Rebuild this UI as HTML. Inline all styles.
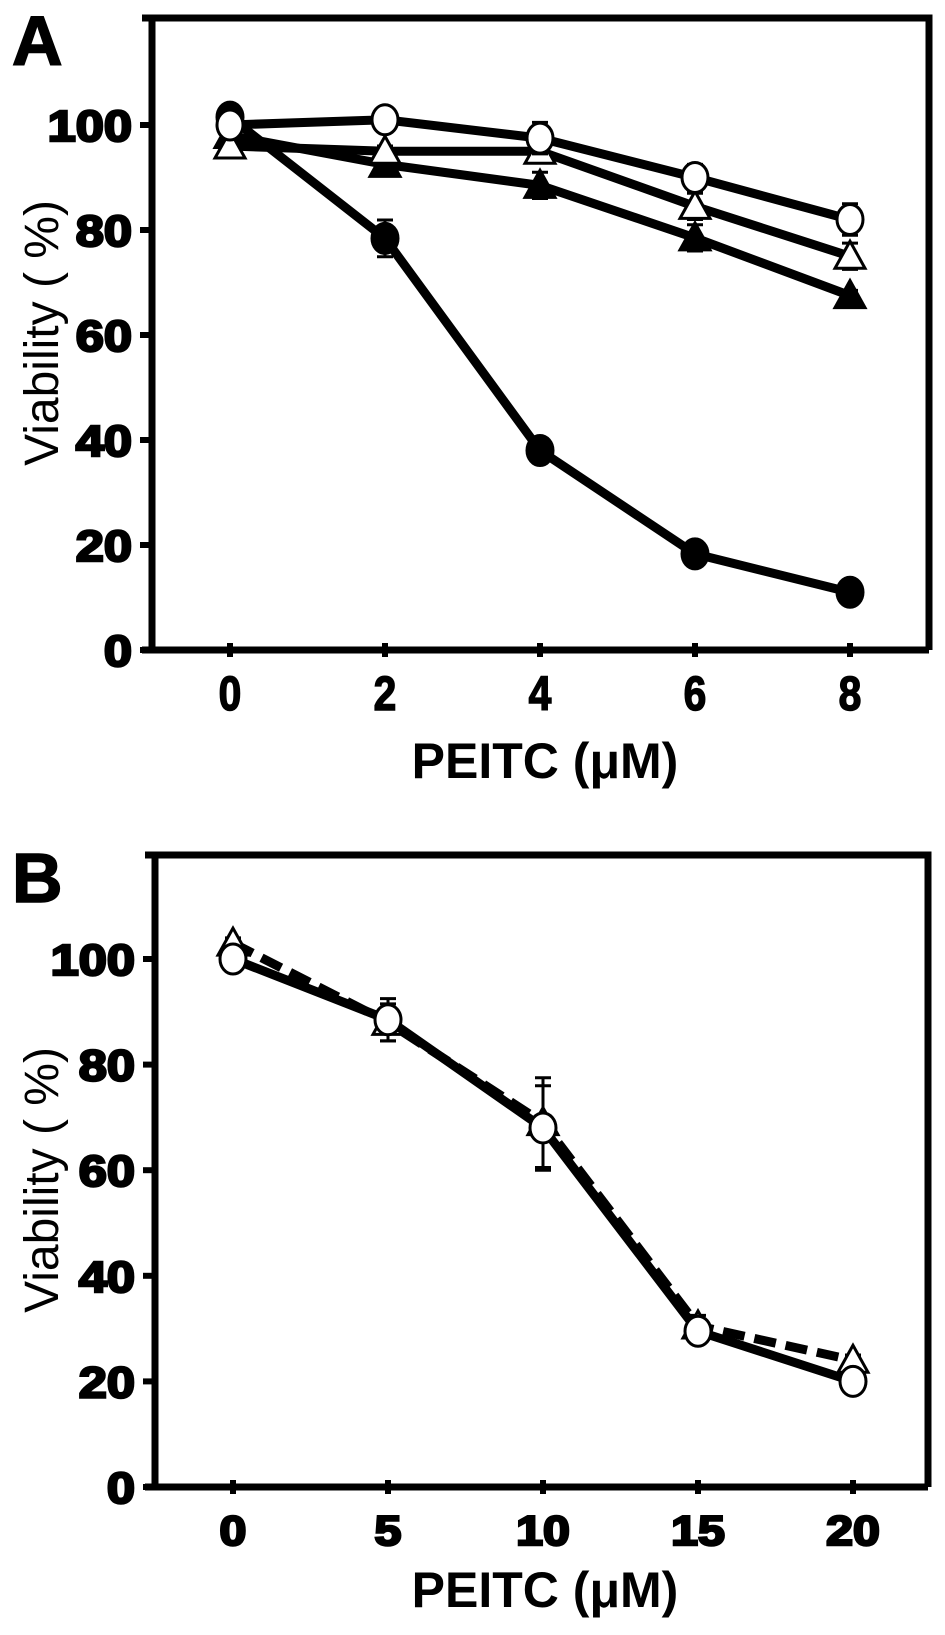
<!DOCTYPE html>
<html><head><meta charset="utf-8"><style>
html,body{margin:0;padding:0;background:#fff;}
svg{display:block;}
text{font-family:"Liberation Sans",sans-serif;fill:#000;}
</style></head><body>
<svg id="fig" width="945" height="1635" viewBox="0 0 945 1635"></svg>
<script>
const xA = [0, 2, 4, 6, 8];
const filledCircleA = [101.5, 78.4, 38, 18.3, 11];
const filledCircleErrA = [1, 3.5, 1, 1, 1];
const openCircleA = [100, 101, 97.5, 90, 82];
const openCircleErrA = [1, 1, 3, 2.5, 3];
const openTriA = [96, 95, 95, 84.5, 75];
const openTriErrA = [1, 1, 2, 2.5, 2.5];
const filledTriA = [98, 92.5, 88.5, 78.5, 67.5];
const filledTriErrA = [1, 1, 2.5, 2.5, 1];
const xB = [0, 5, 10, 15, 20];
const circleB = [100, 88.5, 68, 29.5, 20];
const circleErrB = [1, 4, 8, 2, 1];
const triB = [103, 88, 69, 30.5, 24];
const triErrB = [1, 3.5, 8.5, 2, 1];
const yTicks = [0, 20, 40, 60, 80, 100];

const NS = "http://www.w3.org/2000/svg";
const svg = document.getElementById("fig");
function el(tag, attrs, parent) {
  const e = document.createElementNS(NS, tag);
  for (const k in attrs) e.setAttribute(k, attrs[k]);
  (parent || svg).appendChild(e);
  return e;
}

function panel(cfg) {
  const g = el("g", {});
  
  
  const X = v => cfg.x0 + (v - cfg.xs[0]) * cfg.xStep / (cfg.xs[1] - cfg.xs[0]);
  const Y = v => cfg.yBase - v * cfg.yUnit;
  const L = cfg.left, R = cfg.right, T = cfg.top, B = Y(0);
  const frame = el("path", {d:`M${L-10},${T} H${R} V${B} M${L},${T} V${B} M${L-10},${B} H${R}`, stroke:"#000","stroke-width":7,fill:"none"}, g);
  
  
  yTicks.forEach(t => {
    const tk = el("line", {x1:L-12,x2:L,y1:Y(t),y2:Y(t),stroke:"#000","stroke-width":6}, g);
    
    
    const tx = el("text", {x:L-20,y:Y(t)+16,"text-anchor":"end","font-size":44,"font-weight":"bold",stroke:"#000","stroke-width":2.5,transform:`translate(${L-20},0) scale(1.15,1) translate(${-(L-20)},0)`}, g);
    tx.textContent = t;
    
    
  });
  cfg.xs.forEach(v => {
    const tk = el("line", {x1:X(v),x2:X(v),y1:B-7,y2:B+7,stroke:"#000","stroke-width":6}, g);
    
    
    const tx = el("text", {x:X(v),y:B+cfg.xLabOff,"text-anchor":"middle","font-size":cfg.xFont,"font-weight":"bold",stroke:"#000","stroke-width":cfg.xStroke,transform:`translate(${X(v)},0) scale(${cfg.xScale},1) translate(${-X(v)},0)`}, g);
    tx.textContent = v;
    
    
  });
  const pl = el("text", {x:12,y:T+47,"font-size":70,"font-weight":"bold",stroke:"#000","stroke-width":1.5}, g);
  pl.textContent = cfg.label;
  
  
  const yt = el("text", {x:0,y:0,"text-anchor":"middle","font-size":48,transform:`translate(58,${cfg.yTitleY}) rotate(-90)`}, g);
  yt.textContent = "Viability ( %)";
  
  
  const xt = el("text", {x:cfg.xTitleX,y:cfg.xTitleY,"text-anchor":"middle","font-size":50,"font-weight":"bold"}, g);
  xt.textContent = "PEITC (\u03bcM)";
  
  

  cfg.series.forEach(s => {
    const sg = el("g", {}, g);
    
    
    const pts = cfg.xs.map((v,i) => [X(v), Y(s.vals[i])]);
    const ln = el("polyline", {points:pts.map(p=>p.join(",")).join(" "),fill:"none",stroke:"#000","stroke-width":9,"stroke-linejoin":"round","stroke-dasharray":s.dash||"none"}, sg);
    
    
    s.vals.forEach((v,i) => {
      const x = X(cfg.xs[i]), e = s.err[i];
      const eb = el("path", {d:`M${x},${Y(v+e)} V${Y(v-e)} M${x-8},${Y(v+e)} H${x+8} M${x-8},${Y(v-e)} H${x+8}`,stroke:"#000","stroke-width":3,fill:"none"}, sg);
      
      
      const y = Y(v);
      const fill = s.filled ? "#000" : "#fff";
      let m;
      if (s.shape === "circle") m = el("ellipse", {cx:x,cy:y,rx:13,ry:15,fill,stroke:"#000","stroke-width":3}, sg);
      else m = el("polygon", {points:`${x},${y-15} ${x-15},${y+12} ${x+15},${y+12}`,fill,stroke:"#000","stroke-width":3}, sg);
      
      
    });
  });
}

panel({name:"panel-a", label:"A", xs:xA, x0:230, xStep:155, yBase:650, yUnit:5.25, left:152, right:929, top:18,
  xFont:48, xScale:0.85, xStroke:1.5, xLabOff:60, yTitleY:333, xTitleX:545, xTitleY:778,
  series:[
    {name:"series-filled-circle", vals:filledCircleA, err:filledCircleErrA, shape:"circle", filled:true},
    {name:"series-filled-triangle", vals:filledTriA, err:filledTriErrA, shape:"tri", filled:true},
    {name:"series-open-triangle", vals:openTriA, err:openTriErrA, shape:"tri", filled:false},
    {name:"series-open-circle", vals:openCircleA, err:openCircleErrA, shape:"circle", filled:false}
  ]});
panel({name:"panel-b", label:"B", xs:xB, x0:233, xStep:155, yBase:1487, yUnit:5.28, left:155, right:928, top:855,
  xFont:42, xScale:1.15, xStroke:2.5, xLabOff:58, yTitleY:1180, xTitleX:545, xTitleY:1607,
  series:[
    {name:"series-triangle-dashed", vals:triB, err:triErrB, shape:"tri", filled:false, dash:"22 10"},
    {name:"series-circle-solid", vals:circleB, err:circleErrB, shape:"circle", filled:false}
  ]});
</script>
</body></html>
